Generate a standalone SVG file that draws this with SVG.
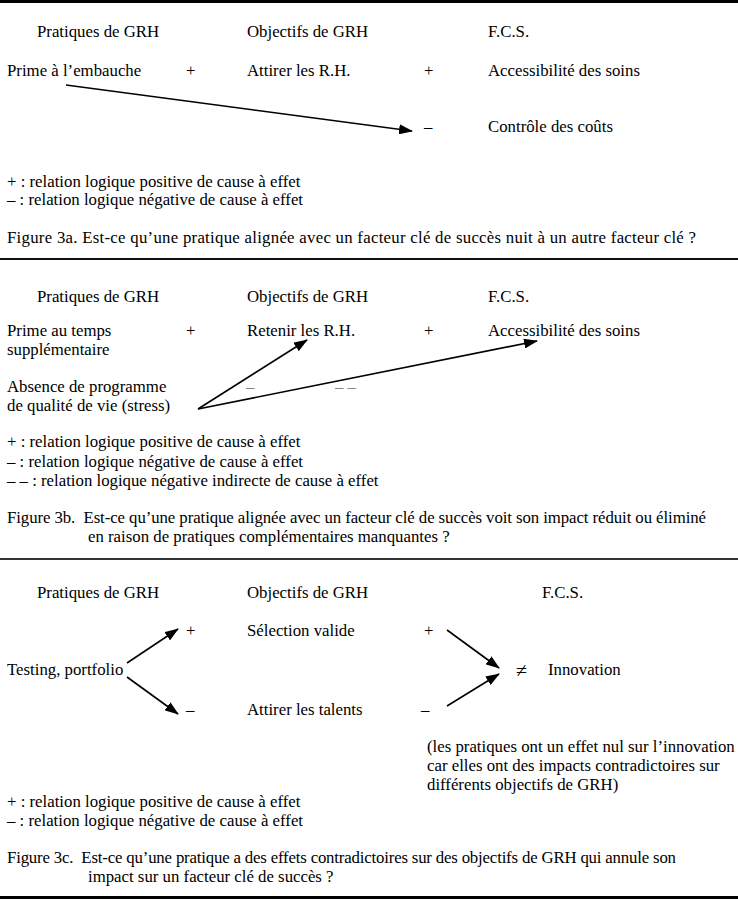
<svg xmlns="http://www.w3.org/2000/svg" width="738" height="900" viewBox="0 0 738 900">
<defs>
<marker id="ah" markerWidth="14" markerHeight="10" refX="13" refY="5" orient="auto" markerUnits="userSpaceOnUse">
<path d="M0,0 L14,5 L0,10 Z" fill="#000"/>
</marker>
</defs>
<style>
text{font-family:"Liberation Serif","Times New Roman",serif;font-size:16.8px;fill:#000}
.g{fill:#888}
.c{stroke:#000;stroke-width:1.6;fill:none;marker-end:url(#ah)}
</style>
<rect width="738" height="900" fill="#fff"/>
<g id="rules">
<line x1="0" y1="1.5" x2="738" y2="1.5" stroke="#000" stroke-width="3"/>
<line x1="0" y1="259" x2="738" y2="259" stroke="#111" stroke-width="2.2"/>
<line x1="0" y1="559" x2="738" y2="559" stroke="#333" stroke-width="2"/>
<line x1="0" y1="897.5" x2="738" y2="897.5" stroke="#000" stroke-width="3"/>
</g>
<g id="fig3a">
<g id="a-headers">
<text x="37" y="37">Pratiques de GRH</text>
<text x="247" y="37">Objectifs de GRH</text>
<text x="488" y="37">F.C.S.</text>
</g>
<g id="a-prime"><text x="7" y="76">Prime à l’embauche</text></g>
<text x="186" y="76">+</text>
<g id="a-attirer"><text x="247" y="76">Attirer les R.H.</text></g>
<text x="424" y="76">+</text>
<g id="a-access"><text x="488" y="76">Accessibilité des soins</text></g>
<text x="424" y="132">–</text>
<g id="a-controle"><text x="488" y="132">Contrôle des coûts</text></g>
<g id="a-legend">
<text x="7" y="187">+ : relation logique positive de cause à effet</text>
<text x="7" y="205">– : relation logique négative de cause à effet</text>
</g>
<text x="7" y="243" textLength="689" lengthAdjust="spacing">Figure 3a. Est-ce qu’une pratique alignée avec un facteur clé de succès nuit à un autre facteur clé ?</text>
</g>
<g id="fig3b">
<g id="b-headers">
<text x="37" y="302">Pratiques de GRH</text>
<text x="247" y="302">Objectifs de GRH</text>
<text x="488" y="302">F.C.S.</text>
</g>
<g id="b-prime"><text x="7" y="336">Prime au temps</text><text x="7" y="355">supplémentaire</text></g>
<text x="186" y="336">+</text>
<g id="b-retenir"><text x="247" y="336">Retenir les R.H.</text></g>
<text x="424" y="336">+</text>
<g id="b-access"><text x="488" y="336">Accessibilité des soins</text></g>
<g id="b-absence"><text x="7" y="392">Absence de programme</text><text x="7" y="411">de qualité de vie (stress)</text></g>
<text class="g" x="246" y="392">–</text>
<text class="g" x="335" y="392">– –</text>
<g id="b-legend">
<text x="7" y="447">+ : relation logique positive de cause à effet</text>
<text x="7" y="467">– : relation logique négative de cause à effet</text>
<text x="7" y="486">– – : relation logique négative indirecte de cause à effet</text>
</g>
<text x="7" y="523" xml:space="preserve" textLength="699" lengthAdjust="spacing">Figure 3b.  Est-ce qu’une pratique alignée avec un facteur clé de succès voit son impact réduit ou éliminé</text>
<text x="88" y="542">en raison de pratiques complémentaires manquantes ?</text>
</g>
<g id="fig3c">
<g id="c-headers">
<text x="37" y="598">Pratiques de GRH</text>
<text x="247" y="598">Objectifs de GRH</text>
<text x="542" y="598">F.C.S.</text>
</g>
<text x="186" y="636">+</text>
<g id="c-selection"><text x="247" y="636">Sélection valide</text></g>
<text x="424" y="636">+</text>
<g id="c-testing"><text x="7" y="675">Testing, portfolio</text></g>
<text x="516" y="677" style="font-size:20px">≠</text>
<g id="c-innovation"><text x="548" y="675">Innovation</text></g>
<text x="186" y="715">–</text>
<g id="c-attirer"><text x="247" y="715">Attirer les talents</text></g>
<text x="421" y="715">–</text>
<g id="c-note">
<text x="427" y="752">(les pratiques ont un effet nul sur l’innovation</text>
<text x="427" y="771">car elles ont des impacts contradictoires sur</text>
<text x="427" y="790">différents objectifs de GRH)</text>
</g>
<g id="c-legend">
<text x="7" y="807">+ : relation logique positive de cause à effet</text>
<text x="7" y="826">– : relation logique négative de cause à effet</text>
</g>
<text x="7" y="863" xml:space="preserve" textLength="669" lengthAdjust="spacing">Figure 3c.  Est-ce qu’une pratique a des effets contradictoires sur des objectifs de GRH qui annule son</text>
<text x="88" y="882">impact sur un facteur clé de succès ?</text>
</g>
<g id="connectors">
<line class="c" x1="66" y1="85" x2="412" y2="131"/>
<line class="c" x1="198" y1="409" x2="307" y2="340"/>
<line class="c" x1="198" y1="409" x2="537" y2="341"/>
<line class="c" x1="127" y1="663" x2="178" y2="629"/>
<line class="c" x1="127" y1="677" x2="178" y2="714"/>
<line class="c" x1="447" y1="630" x2="499" y2="668"/>
<line class="c" x1="447" y1="706" x2="499" y2="674"/>
</g>
</svg>
